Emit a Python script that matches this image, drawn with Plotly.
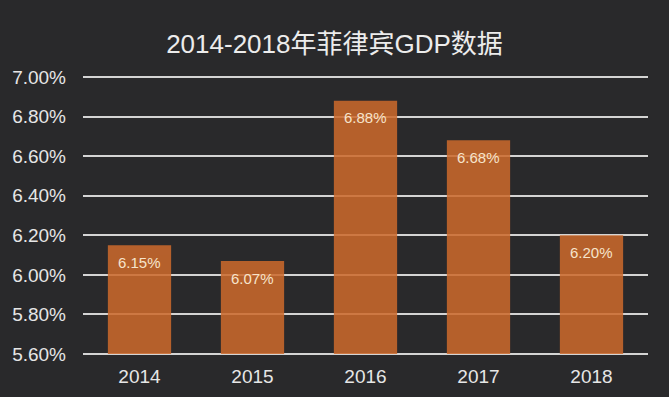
import plotly.graph_objects as go

years = ["2014", "2015", "2016", "2017", "2018"]
gdp = [6.15, 6.07, 6.88, 6.68, 6.20]
labels = ["6.15%", "6.07%", "6.88%", "6.68%", "6.20%"]
tick_vals = [5.6, 5.8, 6.0, 6.2, 6.4, 6.6, 6.8, 7.0]
tick_text = ["5.60%", "5.80%", "6.00%", "6.20%", "6.40%", "6.60%", "6.80%", "7.00%"]
axis_min = 5.6

bg = "#29292b"

fig = go.Figure()
fig.add_trace(go.Bar(
    x=years, y=[v - axis_min for v in gdp], base=axis_min,
    marker=dict(color="rgb(205,106,44)", line=dict(width=0)),
    opacity=0.86,
    hoverinfo="skip",
))

for i, (v, lab) in enumerate(zip(gdp, labels)):
    fig.add_annotation(x=i, y=v, text=lab, showarrow=False, yshift=-17,
                       yanchor="middle", xanchor="center",
                       font=dict(color="#f6e4cc", size=15, family="Liberation Sans, Arial"))

fig.update_layout(
    width=669, height=397,
    paper_bgcolor=bg, plot_bgcolor=bg,
    margin=dict(l=83, r=21, t=74, b=40),
    bargap=0.44,
    showlegend=False,
    title=dict(text="2014-2018年菲律宾GDP数据", x=0.5, xanchor="center", y=1 - 44 / 397, yanchor="middle",
               font=dict(size=26, color="#ececec", family="Liberation Sans, Noto Sans CJK SC")),
    font=dict(family="Liberation Sans, Arial", color="#e6e6e6"),
)
fig.update_yaxes(range=[5.585, 7.015], tickvals=tick_vals, ticktext=tick_text,
                 showgrid=True, gridcolor="#d4d4d4", gridwidth=2, zeroline=False,
                 showline=False, ticks="", ticklabelstandoff=16,
                 tickfont=dict(size=19, color="#e6e6e6"), automargin=False)
fig.update_xaxes(type="category", range=[-0.5, len(years) - 0.5], showgrid=False, showline=False,
                 ticks="", ticklabelstandoff=6,
                 tickfont=dict(size=19, color="#e6e6e6"), automargin=False)

fig.write_html("out.html", config={"displayModeBar": False},
               post_script="document.body.style.margin='0';document.body.style.overflow='hidden';")
